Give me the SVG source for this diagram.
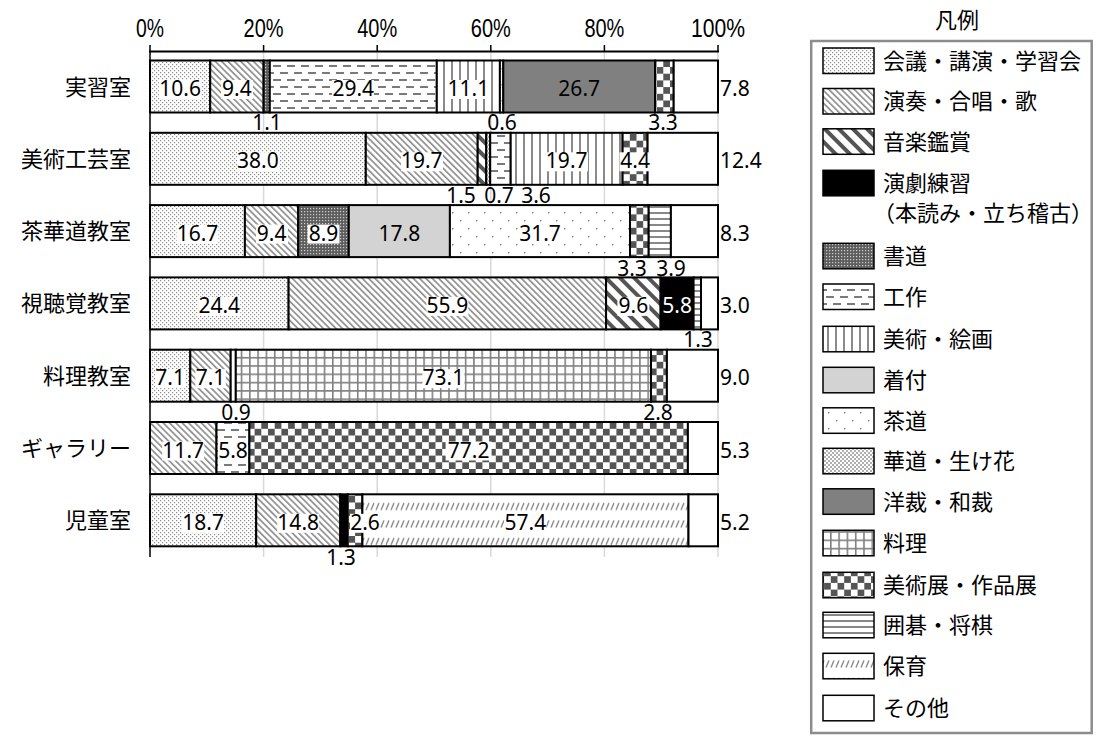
<svg xmlns="http://www.w3.org/2000/svg" width="1096" height="742" viewBox="0 0 1096 742">
<style>
.seg{stroke:#000;stroke-width:2}
.v{font-family:"Noto Sans","Open Sans","DejaVu Sans",sans-serif;font-size:21px;text-anchor:middle;fill:#000}
.r{font-family:"Noto Sans","Open Sans","DejaVu Sans",sans-serif;font-size:21px;text-anchor:start;fill:#000}
.cat{font-family:"Noto Sans CJK JP","Noto Sans CJK SC",sans-serif;font-size:22px;text-anchor:end;fill:#000}
.lg{font-family:"Noto Sans CJK JP","Noto Sans CJK SC",sans-serif;font-size:22px;fill:#000}
.ax{font-family:"Liberation Sans",Arial,sans-serif;font-size:25px;text-anchor:middle;fill:#000}
.grid{stroke:#d9d9d9;stroke-width:1.5}
.lb{fill:#fff}
.sw{stroke:#000;stroke-width:1.5}
</style>
<defs>
<pattern id="pKaigi" width="4" height="4" patternUnits="userSpaceOnUse"><rect width="4" height="4" fill="#fff"/><rect width="1.2" height="1.2" fill="#8a8a8a"/><rect x="2" y="2" width="1.2" height="1.2" fill="#8a8a8a"/></pattern>
<pattern id="pEnsou" width="4.5" height="4.5" patternUnits="userSpaceOnUse" patternTransform="rotate(-45)"><rect width="4.5" height="4.5" fill="#fff"/><rect width="1.6" height="4.5" fill="#8a8a8a"/></pattern>
<pattern id="pKansho" width="10" height="10" patternUnits="userSpaceOnUse" patternTransform="rotate(-45)"><rect width="10" height="10" fill="#fff"/><rect width="4" height="10" fill="#555"/></pattern>
<pattern id="pShodo" width="3" height="3" patternUnits="userSpaceOnUse"><rect width="3" height="3" fill="#5e5e5e"/><rect x="1" y="1" width="1.2" height="1.2" fill="#cfcfcf"/></pattern>
<pattern id="pKosaku" width="14" height="14" patternUnits="userSpaceOnUse"><rect width="14" height="14" fill="#fff"/><rect x="0" y="2" width="8" height="2" fill="#7a7a7a"/><rect x="7" y="9" width="7" height="2" fill="#7a7a7a"/><rect x="0" y="9" width="1" height="2" fill="#7a7a7a"/></pattern>
<pattern id="pBijutsu" width="8" height="8" patternUnits="userSpaceOnUse"><rect width="8" height="8" fill="#fff"/><rect x="3" width="2" height="8" fill="#8a8a8a"/></pattern>
<pattern id="pSado" width="16" height="16" patternUnits="userSpaceOnUse"><rect width="16" height="16" fill="#fff"/><rect x="4" y="4" width="1.5" height="1.5" fill="#888"/><rect x="12" y="12" width="1.5" height="1.5" fill="#888"/></pattern>
<pattern id="pKado" width="4" height="4" patternUnits="userSpaceOnUse"><rect width="4" height="4" fill="#fff"/><rect width="2" height="2" fill="#b0b0b0"/><rect x="2" y="2" width="2" height="2" fill="#b0b0b0"/></pattern>
<pattern id="pRyori" width="8.3" height="8.3" patternUnits="userSpaceOnUse"><rect width="8.3" height="8.3" fill="#fff"/><rect width="1.6" height="8.3" fill="#808080"/><rect width="8.3" height="1.6" fill="#808080"/></pattern>
<pattern id="pTen" width="13.4" height="13.4" patternUnits="userSpaceOnUse"><rect width="13.4" height="13.4" fill="#fff"/><rect width="6.7" height="6.7" fill="#555"/><rect x="6.7" y="6.7" width="6.7" height="6.7" fill="#555"/></pattern>
<pattern id="pIgo" width="6" height="6" patternUnits="userSpaceOnUse"><rect width="6" height="6" fill="#fff"/><rect y="2" width="6" height="2" fill="#888"/></pattern>
<pattern id="pHoiku" x="0" y="3" width="5" height="17.5" patternUnits="userSpaceOnUse"><rect width="5" height="17.5" fill="#fff"/><path d="M1,17 L4,10" stroke="#888" stroke-width="1.4"/></pattern>
</defs>
<rect width="1096" height="742" fill="#fff"/>

<g id="axis">
<line class="grid" x1="263.6" y1="51" x2="263.6" y2="557"/>
<line class="grid" x1="377.2" y1="51" x2="377.2" y2="557"/>
<line class="grid" x1="490.8" y1="51" x2="490.8" y2="557"/>
<line class="grid" x1="604.4" y1="51" x2="604.4" y2="557"/>
<line class="grid" x1="718" y1="51" x2="718" y2="557"/>
<line x1="150" y1="51" x2="150" y2="557" stroke="#000" stroke-width="1.5"/>
<line x1="149" y1="51.5" x2="719" y2="51.5" stroke="#000" stroke-width="2"/>
<path d="M150,45V51.5M263.6,45V51.5M377.2,45V51.5M490.8,45V51.5M604.4,45V51.5M718,45V51.5" stroke="#000" stroke-width="1.5" fill="none"/>
<text class="ax" x="150" y="37" textLength="28" lengthAdjust="spacingAndGlyphs">0%</text>
<text class="ax" x="263.6" y="37" textLength="40" lengthAdjust="spacingAndGlyphs">20%</text>
<text class="ax" x="377.2" y="37" textLength="40" lengthAdjust="spacingAndGlyphs">40%</text>
<text class="ax" x="490.8" y="37" textLength="40" lengthAdjust="spacingAndGlyphs">60%</text>
<text class="ax" x="604.4" y="37" textLength="40" lengthAdjust="spacingAndGlyphs">80%</text>
<text class="ax" x="718" y="37" textLength="54" lengthAdjust="spacingAndGlyphs">100%</text>
</g>

<g id="row-jisshu">
<text class="cat" x="131" y="94.5">実習室</text>
<rect class="seg" x="150" y="60.5" width="60.2" height="52" fill="url(#pKaigi)"/>
<rect class="seg" x="210.2" y="60.5" width="53.4" height="52" fill="url(#pEnsou)"/>
<rect class="seg" x="263.6" y="60.5" width="6.2" height="52" fill="url(#pShodo)"/>
<rect class="seg" x="269.8" y="60.5" width="167" height="52" fill="url(#pKosaku)"/>
<rect class="seg" x="436.8" y="60.5" width="63.1" height="52" fill="url(#pBijutsu)"/>
<rect class="seg" x="499.9" y="60.5" width="3.4" height="52" fill="url(#pSado)"/>
<rect class="seg" x="503.3" y="60.5" width="151.7" height="52" fill="#808080"/>
<rect class="seg" x="655" y="60.5" width="18.7" height="52" fill="url(#pTen)"/>
<rect class="seg" x="673.7" y="60.5" width="44.3" height="52" fill="#fff"/>
<rect class="lb" x="159" y="80" width="42" height="19"/><text class="v" x="180.1" y="96">10.6</text>
<rect class="lb" x="221" y="80" width="32" height="19"/><text class="v" x="236.9" y="96">9.4</text>
<rect class="lb" x="332" y="80" width="42" height="19"/><text class="v" x="353.3" y="96">29.4</text>
<rect class="lb" x="447" y="80" width="42" height="19"/><text class="v" x="468.4" y="96">11.1</text>
<text class="v" x="579.2" y="96">26.7</text>
<text class="v" x="267" y="130">1.1</text>
<text class="v" x="502" y="130">0.6</text>
<text class="v" x="663" y="130">3.3</text>
<text class="r" x="720" y="96">7.8</text>
</g>

<g id="row-bijutsukogei">
<text class="cat" x="131" y="166.8">美術工芸室</text>
<rect class="seg" x="150" y="132.8" width="215.8" height="52" fill="url(#pKaigi)"/>
<rect class="seg" x="365.8" y="132.8" width="111.9" height="52" fill="url(#pEnsou)"/>
<rect class="seg" x="477.7" y="132.8" width="8.6" height="52" fill="url(#pKansho)"/>
<rect class="seg" x="486.3" y="132.8" width="3.9" height="52" fill="url(#pKado)"/>
<rect class="seg" x="490.2" y="132.8" width="20.5" height="52" fill="url(#pKosaku)"/>
<rect class="seg" x="510.7" y="132.8" width="111.9" height="52" fill="url(#pBijutsu)"/>
<rect class="seg" x="622.6" y="132.8" width="25" height="52" fill="url(#pTen)"/>
<rect class="seg" x="647.6" y="132.8" width="70.4" height="52" fill="#fff"/>
<rect class="lb" x="237" y="152.3" width="42" height="19"/><text class="v" x="257.9" y="168.3">38.0</text>
<rect class="lb" x="401" y="152.3" width="42" height="19"/><text class="v" x="421.8" y="168.3">19.7</text>
<rect class="lb" x="546" y="152.3" width="42" height="19"/><text class="v" x="566.7" y="168.3">19.7</text>
<rect class="lb" x="619.5" y="152.3" width="31" height="19"/><text class="v" x="635.1" y="168.3">4.4</text>
<text class="v" x="461" y="202.5">1.5</text>
<text class="v" x="499" y="202.5">0.7</text>
<text class="v" x="536" y="202.5">3.6</text>
<text class="r" x="720" y="168.3">12.4</text>
</g>

<g id="row-sakado">
<text class="cat" x="131" y="239.1">茶華道教室</text>
<rect class="seg" x="150" y="205.1" width="94.9" height="52" fill="url(#pKaigi)"/>
<rect class="seg" x="244.9" y="205.1" width="53.3" height="52" fill="url(#pEnsou)"/>
<rect class="seg" x="298.2" y="205.1" width="50.6" height="52" fill="url(#pShodo)"/>
<rect class="seg" x="348.8" y="205.1" width="101.1" height="52" fill="#d3d3d3"/>
<rect class="seg" x="449.9" y="205.1" width="180.1" height="52" fill="url(#pSado)"/>
<rect class="seg" x="630" y="205.1" width="18.7" height="52" fill="url(#pTen)"/>
<rect class="seg" x="648.7" y="205.1" width="22.2" height="52" fill="url(#pIgo)"/>
<rect class="seg" x="670.9" y="205.1" width="47.1" height="52" fill="#fff"/>
<rect class="lb" x="176.5" y="224.6" width="42" height="19"/><text class="v" x="197.5" y="240.6">16.7</text>
<rect class="lb" x="256" y="224.6" width="32" height="19"/><text class="v" x="271.6" y="240.6">9.4</text>
<rect class="lb" x="307.5" y="224.6" width="32" height="19"/><text class="v" x="323.5" y="240.6">8.9</text>
<text class="v" x="399.4" y="240.6">17.8</text>
<rect class="lb" x="519" y="224.6" width="42" height="19"/><text class="v" x="540" y="240.6">31.7</text>
<text class="v" x="632" y="276">3.3</text>
<text class="v" x="671" y="276">3.9</text>
<text class="r" x="720" y="240.6">8.3</text>
</g>

<g id="row-shichokaku">
<text class="cat" x="131" y="311.4">視聴覚教室</text>
<rect class="seg" x="150" y="277.4" width="138.6" height="52" fill="url(#pKaigi)"/>
<rect class="seg" x="288.6" y="277.4" width="317.5" height="52" fill="url(#pEnsou)"/>
<rect class="seg" x="606.1" y="277.4" width="54.5" height="52" fill="url(#pKansho)"/>
<rect class="seg" x="660.6" y="277.4" width="33" height="52" fill="#000"/>
<rect class="seg" x="693.6" y="277.4" width="7.4" height="52" fill="url(#pIgo)"/>
<rect class="seg" x="701" y="277.4" width="17" height="52" fill="#fff"/>
<rect class="lb" x="198.3" y="296.9" width="42" height="19"/><text class="v" x="219.3" y="312.9">24.4</text>
<rect class="lb" x="426.4" y="296.9" width="42" height="19"/><text class="v" x="447.4" y="312.9">55.9</text>
<rect class="lb" x="617.4" y="296.9" width="32" height="19"/><text class="v" x="633.4" y="312.9">9.6</text>
<text class="v" x="677.1" y="312.9" style="fill:#fff">5.8</text>
<text class="v" x="698" y="347">1.3</text>
<text class="r" x="720" y="312.9">3.0</text>
</g>

<g id="row-ryori">
<text class="cat" x="131" y="383.7">料理教室</text>
<rect class="seg" x="150" y="349.7" width="40.3" height="52" fill="url(#pKaigi)"/>
<rect class="seg" x="190.3" y="349.7" width="40.4" height="52" fill="url(#pEnsou)"/>
<rect class="seg" x="230.7" y="349.7" width="5.1" height="52" fill="url(#pSado)"/>
<rect class="seg" x="235.8" y="349.7" width="415.2" height="52" fill="url(#pRyori)"/>
<rect class="seg" x="651" y="349.7" width="15.9" height="52" fill="url(#pTen)"/>
<rect class="seg" x="666.9" y="349.7" width="51.1" height="52" fill="#fff"/>
<rect class="lb" x="155" y="369.2" width="30.5" height="19"/><text class="v" x="170.2" y="385.2">7.1</text>
<rect class="lb" x="195.3" y="369.2" width="30.5" height="19"/><text class="v" x="210.5" y="385.2">7.1</text>
<rect class="lb" x="422.4" y="369.2" width="42" height="19"/><text class="v" x="443.4" y="385.2">73.1</text>
<text class="v" x="236" y="420">0.9</text>
<text class="v" x="658" y="420">2.8</text>
<text class="r" x="720" y="385.2">9.0</text>
</g>

<g id="row-gallery">
<text class="cat" x="131" y="456">ギャラリー</text>
<rect class="seg" x="150" y="422" width="66.5" height="52" fill="url(#pEnsou)"/>
<rect class="seg" x="216.5" y="422" width="32.9" height="52" fill="url(#pKosaku)"/>
<rect class="seg" x="249.4" y="422" width="438.5" height="52" fill="url(#pTen)"/>
<rect class="seg" x="687.9" y="422" width="30.1" height="52" fill="#fff"/>
<rect class="lb" x="162.2" y="441.5" width="42" height="19"/><text class="v" x="183.2" y="457.5">11.7</text>
<rect class="lb" x="218" y="441.5" width="30" height="19"/><text class="v" x="233" y="457.5">5.8</text>
<rect class="lb" x="445.6" y="441.5" width="46" height="19"/><text class="v" x="468.6" y="457.5">77.2</text>
<text class="r" x="720" y="457.5">5.3</text>
</g>

<g id="row-jido">
<text class="cat" x="131" y="528.3">児童室</text>
<rect class="seg" x="150" y="494.3" width="106.2" height="52" fill="url(#pKaigi)"/>
<rect class="seg" x="256.2" y="494.3" width="84.1" height="52" fill="url(#pEnsou)"/>
<rect class="seg" x="340.3" y="494.3" width="7.4" height="52" fill="#000"/>
<rect class="seg" x="347.7" y="494.3" width="14.7" height="52" fill="url(#pTen)"/>
<rect class="seg" x="362.4" y="494.3" width="326.1" height="52" fill="url(#pHoiku)"/>
<rect class="seg" x="688.5" y="494.3" width="29.5" height="52" fill="#fff"/>
<rect class="lb" x="182.1" y="513.8" width="42" height="19"/><text class="v" x="203.1" y="529.8">18.7</text>
<rect class="lb" x="277.2" y="513.8" width="42" height="19"/><text class="v" x="298.2" y="529.8">14.8</text>
<rect class="lb" x="350" y="513.8" width="30" height="19"/><text class="v" x="365" y="529.8">2.6</text>
<rect class="lb" x="504.4" y="513.8" width="42" height="19"/><text class="v" x="525.4" y="529.8">57.4</text>
<text class="v" x="341" y="565">1.3</text>
<text class="r" x="720" y="529.8">5.2</text>
</g>

<g id="legend">
<text class="lg" x="957" y="28" text-anchor="middle">凡例</text>
<rect x="811.2" y="41" width="280.5" height="692" fill="none" stroke="#8c8c8c" stroke-width="2.5"/>
<rect class="sw" x="823" y="48" width="51" height="25.5" fill="url(#pKaigi)"/><text class="lg" x="883" y="68.8">会議・講演・学習会</text>
<rect class="sw" x="823" y="88.5" width="51" height="25.5" fill="url(#pEnsou)"/><text class="lg" x="883" y="109.2">演奏・合唱・歌</text>
<rect class="sw" x="823" y="128.8" width="51" height="25.5" fill="url(#pKansho)"/><text class="lg" x="883" y="149.5">音楽鑑賞</text>
<rect class="sw" x="823" y="170.3" width="51" height="25.5" fill="#000"/><text class="lg" x="883" y="191">演劇練習</text>
<text class="lg" x="873" y="221">（本読み・立ち稽古）</text>
<rect class="sw" x="823" y="243.3" width="51" height="25.5" fill="url(#pShodo)"/><text class="lg" x="883" y="264">書道</text>
<rect class="sw" x="823" y="284" width="51" height="25.5" fill="url(#pKosaku)"/><text class="lg" x="883" y="304.7">工作</text>
<rect class="sw" x="823" y="326.3" width="51" height="25.5" fill="url(#pBijutsu)"/><text class="lg" x="883" y="347">美術・絵画</text>
<rect class="sw" x="823" y="367.3" width="51" height="25.5" fill="#d3d3d3"/><text class="lg" x="883" y="388">着付</text>
<rect class="sw" x="823" y="407.8" width="51" height="25.5" fill="url(#pSado)"/><text class="lg" x="883" y="428.5">茶道</text>
<rect class="sw" x="823" y="448.3" width="51" height="25.5" fill="url(#pKado)"/><text class="lg" x="883" y="469">華道・生け花</text>
<rect class="sw" x="823" y="488.8" width="51" height="25.5" fill="#808080"/><text class="lg" x="883" y="509.5">洋裁・和裁</text>
<rect class="sw" x="823" y="530.3" width="51" height="25.5" fill="url(#pRyori)"/><text class="lg" x="883" y="551">料理</text>
<rect class="sw" x="823" y="572.3" width="51" height="25.5" fill="url(#pTen)"/><text class="lg" x="883" y="593">美術展・作品展</text>
<rect class="sw" x="823" y="612.3" width="51" height="25.5" fill="url(#pIgo)"/><text class="lg" x="883" y="633">囲碁・将棋</text>
<rect class="sw" x="823" y="653.3" width="51" height="25.5" fill="url(#pHoiku)"/><text class="lg" x="883" y="674">保育</text>
<rect class="sw" x="823" y="695.3" width="51" height="25.5" fill="#fff"/><text class="lg" x="883" y="716">その他</text>
</g>
</svg>
